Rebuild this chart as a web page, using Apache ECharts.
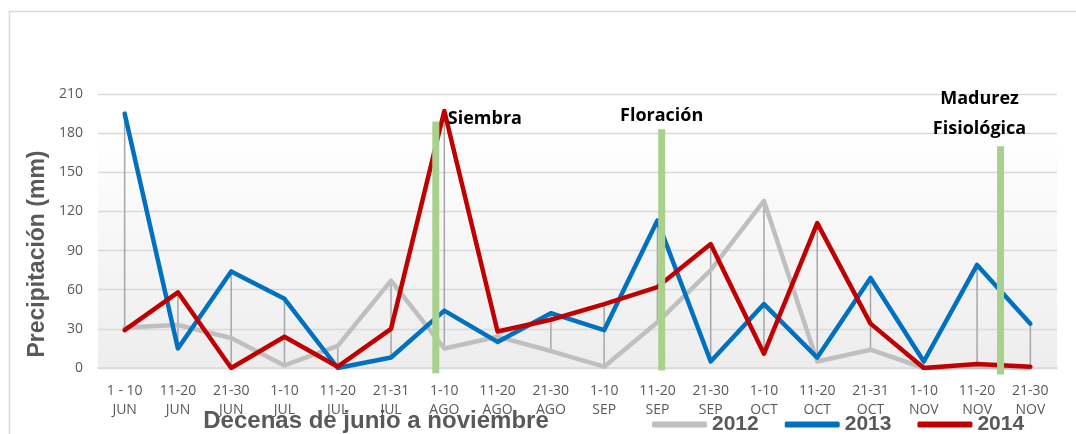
<!DOCTYPE html>
<html>
<head>
<meta charset="utf-8">
<script src="https://cdn.jsdelivr.net/npm/echarts@6/dist/echarts.min.js"></script>
<style>
html,body{margin:0;padding:0;background:#fff;}
#chart{width:1076px;height:434px;}
</style>
</head>
<body>
<div id="chart"></div>
<script>
// ---- data ----
const decades = ['1 - 10','11-20','21-30','1-10','11-20','21-31','1-10','11-20','21-30','1-10','11-20','21-30','1-10','11-20','21-31','1-10','11-20','21-30'];
const months  = ['JUN','JUN','JUN','JUL','JUL','JUL','AGO','AGO','AGO','SEP','SEP','SEP','OCT','OCT','OCT','NOV','NOV','NOV'];
const y2012 = [31, 33, 23, 2, 17, 67, 15, 24, 13, 1, 35, 75, 128, 5, 14, 0, 1, 0];
const y2013 = [195, 15, 74, 53, 0, 8, 44, 20, 42, 29, 113, 5, 49, 8, 69, 5, 79, 34];
const y2014 = [29, 58, 0, 24, 1, 30, 197, 28, 37, 49, 62, 95, 11, 111, 34, 0, 3, 1];
const yTicks = [0, 30, 60, 90, 120, 150, 180, 210];
// stage markers (position in category units, bottom and top values)
const stageNames  = ['Siembra', 'Floración', 'Madurez\nFisiológica'];
const stageX      = [5.84, 10.08, 16.44];
const stageBottom = [-4, -2, -5];
const stageTop    = [189, 183, 170];

const categories = decades.map((d, i) => d + '\n' + months[i]);
const hiLo = categories.map((c, i) => {
  const v = [y2012[i], y2013[i], y2014[i]];
  return [i, Math.min.apply(null, v), Math.max.apply(null, v)];
});
const stages = stageNames.map((n, i) => [stageX[i], stageBottom[i], stageTop[i], n]);

// label placement styles (pixels, relative to bar top)
const stageLabelStyle = [
  {align: 'left',   vAlign: 'middle', dx: 12,  dy: -3},
  {align: 'center', vAlign: 'bottom', dx: 0,   dy: 2},
  {align: 'center', vAlign: 'bottom', dx: -21, dy: -2}
];

const chart = echarts.init(document.getElementById('chart'), null, {renderer: 'canvas'});
const gray = '#595959';

const option = {
  animation: false,
  backgroundColor: '#ffffff',
  grid: {
    left: 98, right: 19, top: 94, bottom: 66,
    show: true, borderWidth: 0,
    backgroundColor: new echarts.graphic.LinearGradient(0, 0, 0, 1, [
      {offset: 0, color: '#ffffff'},
      {offset: 0.12, color: '#ffffff'},
      {offset: 1, color: '#ededed'}
    ])
  },
  xAxis: [{
    type: 'category',
    data: categories,
    boundaryGap: true,
    axisLine: {lineStyle: {color: '#d9d9d9', width: 1.5}},
    axisTick: {show: false},
    axisLabel: {
      interval: 0, margin: 14,
      color: gray, fontSize: 14, lineHeight: 19,
      fontFamily: 'Open Sans'
    }
  }, {
    type: 'value', min: -0.5, max: 17.5, show: false
  }],
  yAxis: {
    type: 'value', min: yTicks[0], max: yTicks[yTicks.length - 1], interval: 30,
    axisLine: {show: false},
    axisTick: {show: false},
    splitLine: {lineStyle: {color: '#d9d9d9', width: 1.3}},
    axisLabel: {color: gray, fontSize: 14, margin: 15, fontFamily: 'Open Sans'}
  },
  legend: {
    left: 647, top: 409,
    itemWidth: 55, itemHeight: 6, itemGap: 26,
    icon: 'roundRect',
    textStyle: {color: gray, fontSize: 21, fontWeight: 'bold', fontFamily: 'Liberation Sans'},
    data: ['2012', '2013', '2014']
  },
  graphic: [
    {type: 'rect', silent: true, z: -10,
     shape: {x: 9.5, y: 11.5, width: 1200, height: 600},
     style: {fill: 'none', stroke: '#d9d9d9', lineWidth: 1.5}},
    {type: 'text', x: 38, y: 254, rotation: Math.PI / 2,
     style: {text: 'Precipitación (mm)', fill: gray, fontSize: 23, fontWeight: 'bold',
             fontFamily: 'Liberation Sans', align: 'center', verticalAlign: 'middle'}},
    {type: 'text', x: 376, y: 421,
     style: {text: 'Decenas de junio a noviembre', fill: gray, fontSize: 24, fontWeight: 'bold',
             fontFamily: 'Liberation Sans', align: 'center', verticalAlign: 'middle'}}
  ],
  series: [
    {
      type: 'custom', name: 'hilo', xAxisIndex: 0, yAxisIndex: 0, z: 1,
      data: hiLo,
      encode: {x: 0, y: [1, 2]},
      renderItem: function (params, api) {
        const lo = api.coord([api.value(0), api.value(1)]);
        const hi = api.coord([api.value(0), api.value(2)]);
        return {type: 'line', shape: {x1: lo[0], y1: lo[1], x2: hi[0], y2: hi[1]},
                style: {stroke: '#a6a6a6', lineWidth: 1.5}};
      },
      silent: true
    },
    {name: '2012', type: 'line', data: y2012, z: 2, showSymbol: false, symbol: 'none',
     itemStyle: {color: '#bfbfbf'},
     lineStyle: {color: '#bfbfbf', width: 4.5, cap: 'round', join: 'round'}},
    {name: '2013', type: 'line', data: y2013, z: 3, showSymbol: false, symbol: 'none',
     itemStyle: {color: '#0070c0'},
     lineStyle: {color: '#0070c0', width: 4.5, cap: 'round', join: 'round'}},
    {name: '2014', type: 'line', data: y2014, z: 4, showSymbol: false, symbol: 'none',
     itemStyle: {color: '#c00000'},
     lineStyle: {color: '#c00000', width: 4.5, cap: 'round', join: 'round'}},
    {
      type: 'custom', name: 'stages', xAxisIndex: 1, yAxisIndex: 0, z: 5,
      data: stages,
      encode: {x: 0, y: [1, 2]},
      renderItem: function (params, api) {
        const b = api.coord([api.value(0), api.value(1)]);
        const t = api.coord([api.value(0), api.value(2)]);
        const st = stageLabelStyle[params.dataIndex];
        return {
          type: 'group',
          children: [
            {type: 'rect', shape: {x: t[0] - 3.5, y: t[1], width: 7, height: b[1] - t[1]},
             style: {fill: '#a9d18e'}},
            {type: 'text', x: t[0] + st.dx, y: t[1] + st.dy,
             style: {text: stageNames[params.dataIndex], fill: '#000000', fontSize: 18,
                     fontWeight: 'bold', fontFamily: 'Open Sans', lineHeight: 30,
                     align: st.align, verticalAlign: st.vAlign}}
          ]
        };
      },
      silent: true
    }
  ]
};
chart.setOption(option);
</script>
</body>
</html>
